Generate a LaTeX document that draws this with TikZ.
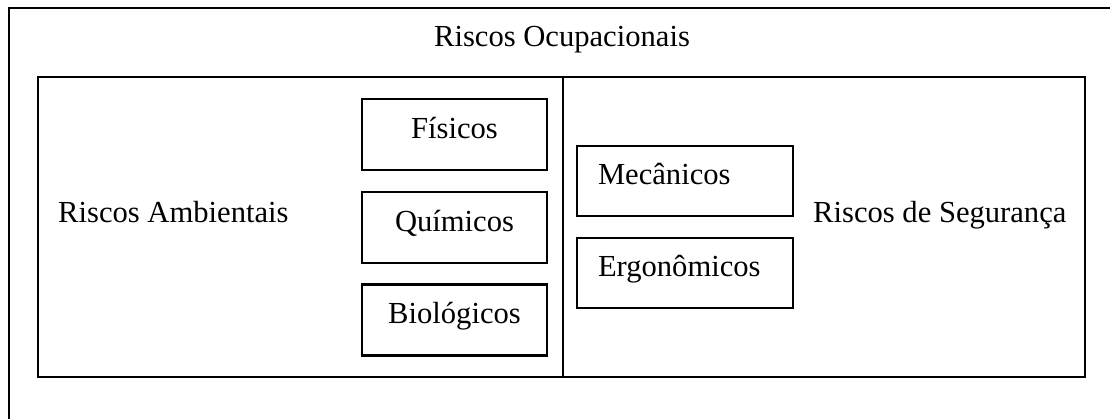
\documentclass[tikz,border=0pt]{standalone}
\usepackage{fontspec}
\setmainfont{Liberation Serif}
\begin{document}
\begin{tikzpicture}[x=1pt,y=-1pt,
  frame/.style={draw=black,line width=2.2pt,inner sep=0pt},
  riskbox/.style={frame,minimum width=185pt,minimum height=71pt,
    text height=21pt,text depth=14pt,font=\fontsize{30.6}{36}\selectfont},
  segbox/.style={frame,minimum width=216pt,minimum height=70pt,
    text height=21pt,text depth=14pt,inner xsep=21pt,text width=174pt,align=left,
    font=\fontsize{30.6}{36}\selectfont},
  lbl/.style={inner sep=0pt,font=\fontsize{30.6}{36}\selectfont}]
\useasboundingbox (0,0) rectangle (1110,418);
\clip (0,0) rectangle (1110,418);
% outer frame (its right and bottom edges lie outside the picture)
\coordinate (obl) at (9,440);
\coordinate (otr) at (1140,8);
\draw[line width=2.2pt] (obl) |- (otr);
% inner frame
\node[frame,minimum width=1047pt,minimum height=300pt] (inner) at (561.5,227) {};
\coordinate (dtop) at (563,77);
\coordinate (dbot) at (563,377);
\draw[line width=2.2pt] (dtop) -- (dbot);
% titles
\node[lbl,anchor=base] (ocup) at (562,46) {Riscos Ocupacionais};
\node[lbl,anchor=base west] (amb) at (58,222) {Riscos Ambientais};
\node[lbl,anchor=base west] (seg) at (813,222) {Riscos de Segurança};
% left boxes
\node[riskbox] (fis) at (454.5,134.5) {Físicos};
\node[riskbox] (qui) at (454.5,227.5) {Químicos};
\node[riskbox] (bio) at (454.5,320) {Biológicos};
% right boxes
\node[segbox] (mec) at (685,181) {Mecânicos};
\node[segbox] (erg) at (685,273) {Ergonômicos};
\end{tikzpicture}
\end{document}
